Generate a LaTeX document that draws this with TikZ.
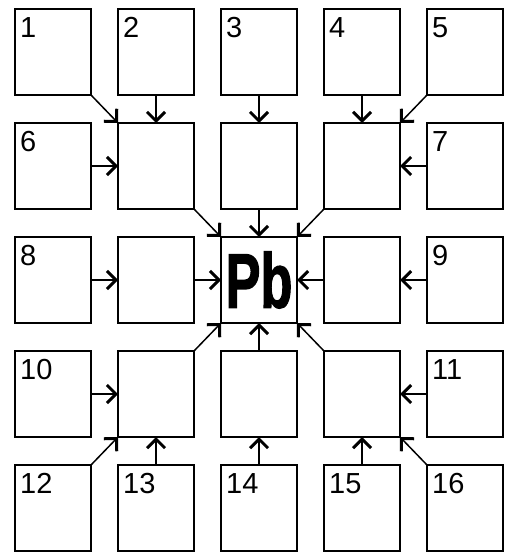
\documentclass[tikz,border=0pt]{standalone}
\usepackage{fontspec}
\setmainfont{Liberation Sans}
\newfontfamily\pbfont{Liberation Sans}[BoldFeatures={FakeBold=2}]
\usepackage{graphicx}
\usetikzlibrary{arrows.meta,positioning}
\tikzset{
  cellbox/.style={rectangle,draw=black,line width=1.6pt,minimum width=76pt,minimum height=86pt,inner sep=0pt,outer sep=0pt},
  numlabel/.style={anchor=north west,inner xsep=5pt,inner ysep=8pt,font=\fontsize{29}{29}\selectfont},
  numbox/.style={cellbox,label={[numlabel]north west:#1}},
  arr/.style={-{Straight Barb[length=9pt,width=18pt,line width'=3pt]},line width=1.5pt}
}

\begin{document}
\begin{tikzpicture}[node distance=28pt and 27pt]
  \useasboundingbox (0,0) rectangle (516pt,-556pt);

  % outer ring, top
  \node[numbox=1] (s1) at (53pt,-52pt) {};
  \node[numbox=2,right=of s1] (s2) {};
  \node[numbox=3,right=of s2] (s3) {};
  \node[numbox=4,right=of s3] (s4) {};
  \node[numbox=5,right=of s4] (s5) {};
  % second row
  \node[numbox=6,below=of s1] (s6) {};
  \node[cellbox,right=of s6] (iTL) {};
  \node[cellbox,right=of iTL] (iT) {};
  \node[cellbox,right=of iT] (iTR) {};
  \node[numbox=7,right=of iTR] (s7) {};
  % middle row
  \node[numbox=8,below=of s6] (s8) {};
  \node[cellbox,right=of s8] (iL) {};
  \node[cellbox,right=of iL] (pb)
      {\scalebox{0.68}[1]{\fontsize{77}{77}\selectfont\pbfont\bfseries Pb}};
  \node[cellbox,right=of pb] (iR) {};
  \node[numbox=9,right=of iR] (s9) {};
  % fourth row
  \node[numbox=10,below=of s8] (s10) {};
  \node[cellbox,right=of s10] (iBL) {};
  \node[cellbox,right=of iBL] (iB) {};
  \node[cellbox,right=of iB] (iBR) {};
  \node[numbox=11,right=of iBR] (s11) {};
  % outer ring, bottom
  \node[numbox=12,below=of s10] (s12) {};
  \node[numbox=13,right=of s12] (s13) {};
  \node[numbox=14,right=of s13] (s14) {};
  \node[numbox=15,right=of s14] (s15) {};
  \node[numbox=16,right=of s15] (s16) {};

  % outer -> inner
  \draw[arr] (s1.south east) -- (iTL.north west);
  \draw[arr] (s2.south) -- (iTL.north);
  \draw[arr] (s3.south) -- (iT.north);
  \draw[arr] (s4.south) -- (iTR.north);
  \draw[arr] (s5.south west) -- (iTR.north east);
  \draw[arr] (s6.east) -- (iTL.west);
  \draw[arr] (s7.west) -- (iTR.east);
  \draw[arr] (s8.east) -- (iL.west);
  \draw[arr] (s9.west) -- (iR.east);
  \draw[arr] (s10.east) -- (iBL.west);
  \draw[arr] (s11.west) -- (iBR.east);
  \draw[arr] (s12.north east) -- (iBL.south west);
  \draw[arr] (s13.north) -- (iBL.south);
  \draw[arr] (s14.north) -- (iB.south);
  \draw[arr] (s15.north) -- (iBR.south);
  \draw[arr] (s16.north west) -- (iBR.south east);

  % inner -> Pb
  \draw[arr] (iTL.south east) -- (pb.north west);
  \draw[arr] (iT.south) -- (pb.north);
  \draw[arr] (iTR.south west) -- (pb.north east);
  \draw[arr] (iL.east) -- (pb.west);
  \draw[arr] (iR.west) -- (pb.east);
  \draw[arr] (iBL.north east) -- (pb.south west);
  \draw[arr] (iB.north) -- (pb.south);
  \draw[arr] (iBR.north west) -- (pb.south east);
\end{tikzpicture}
\end{document}
